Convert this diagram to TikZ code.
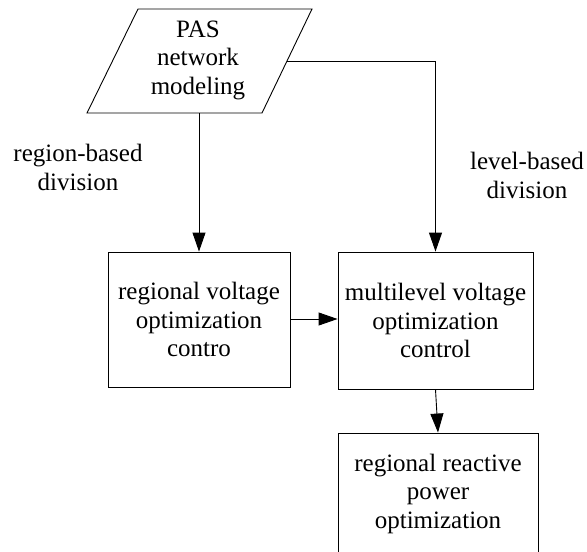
\documentclass[tikz,border=0pt]{standalone}
\usepackage{fontspec}
\setmainfont{Liberation Serif}
\usetikzlibrary{arrows.meta}
\begin{document}
\begin{tikzpicture}[x=1pt,y=-1pt,
  txt/.style={font=\fontsize{25}{28.5}\selectfont, align=center, inner sep=0pt},
  boxnode/.style={txt, draw, line width=0.9pt},
  conn/.style={line width=0.9pt},
  arr/.style={conn, -{Triangle[length=19pt,width=13pt]}}]
\useasboundingbox (0,0) rectangle (587,552);
\clip (0,0) rectangle (587,552);
% parallelogram
\coordinate (p1) at (138,9);
\coordinate (p2) at (312,9);
\coordinate (p3) at (262,113);
\coordinate (p4) at (87,113);
\draw[conn, line join=miter] (p1) -- (p2) -- (p3) -- (p4) -- cycle;
\node[txt] (pas) at (198,60) {PAS\\network\\modeling};
\coordinate (pr) at (287,61);
\coordinate (pb) at (199,113);
% boxes
\node[boxnode, minimum width=182pt, minimum height=135pt] (b1) at (199,319.5) {};
\node[txt] (t1) at (b1.center) {regional voltage\\optimization\\contro};
\node[boxnode, minimum width=195pt, minimum height=137pt] (b2) at (435.5,320.5) {};
\node[txt] (t2) at (b2.center) {multilevel voltage\\optimization\\control};
\node[boxnode, minimum width=200pt, minimum height=120pt] (b3) at (438,493) {};
\node[txt] (t3) at (438,493.5) {regional reactive\\power\\optimization};
% labels
\node[txt] (l1) at (78,167.5) {region-based\\division};
\node[txt] (l2) at (527,175.5) {level-based\\division};
% connectors
\draw[arr] (pb) -- (b1.north);
\draw[arr] (pr) -| (b2.north);
\draw[arr] (b1.east |- 0,319) -- (b2.west |- 0,319);
\draw[arr] (b2.south) -- (b3.north);
\end{tikzpicture}
\end{document}
